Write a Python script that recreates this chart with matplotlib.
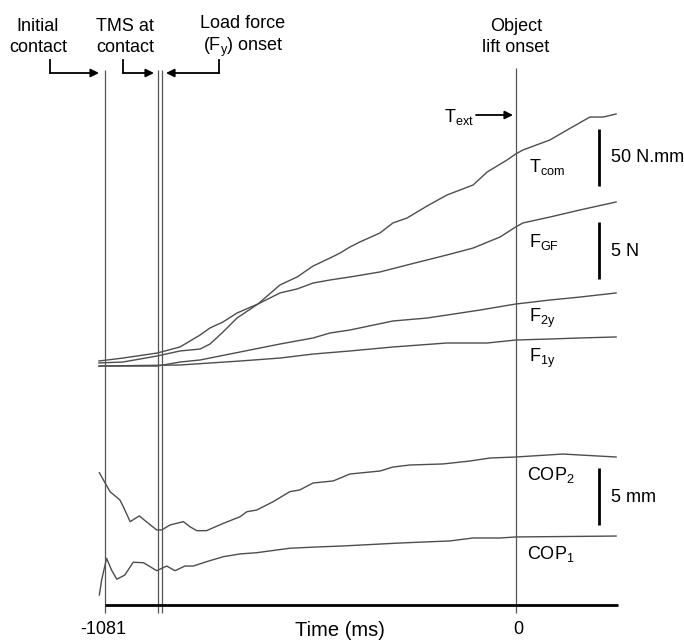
import matplotlib
matplotlib.use("Agg")
import matplotlib.pyplot as plt
import matplotlib.transforms as mtransforms

plt.rcParams['font.family'] = ['Liberation Sans', 'DejaVu Sans']
plt.rcParams['mathtext.fontset'] = 'custom'
plt.rcParams['mathtext.rm'] = 'Liberation Sans'
plt.rcParams['mathtext.it'] = 'Liberation Sans'

# events (ms relative to object lift onset)
t_contact = -1081
t_tms = -941
t_load = -929
t_lift = 0
t_end = 270

# commanded torque (N.mm)
t_tcom = [-1096, -1033, -943, -883, -830, -804, -770, -733, -678, -620, -575, -533, -488,
          -462, -436, -410, -357, -323, -286, -233, -181, -112, -75, -23, 0, 19, 90, 135,
          195, 230, 264]
tcom = [1.8, 2.6, 7.9, 12.3, 14.0, 18.4, 28.9, 41.2, 53.5, 70.2, 77.2, 86.8, 93.9,
        98.2, 103.5, 107.9, 115.8, 124.6, 128.9, 139.5, 149.1, 157.9, 169.3, 179.8, 185.1,
        188.6, 197.4, 206.1, 217.5, 217.5, 220.2]

# grip force (N)
t_fgf = [-1096, -1033, -943, -883, -830, -804, -770, -733, -678, -620, -575, -533, -488,
         -436, -357, -286, -181, -112, -41, 0, 19, 90, 169, 264]
fgf = [0.35, 0.61, 1.05, 1.58, 2.63, 3.25, 3.77, 4.56, 5.35, 6.32, 6.67, 7.19, 7.46,
       7.72, 8.16, 8.77, 9.65, 10.26, 11.23, 12.11, 12.46, 12.98, 13.60, 14.30]

# load force digit 2 (N)
t_f2y = [-1096, -943, -883, -830, -725, -620, -533, -488, -436, -323, -233, -94, 0, 90,
         169, 264]
f2y = [-0.09, -0.09, 0.26, 0.44, 1.14, 1.84, 2.37, 2.81, 3.07, 3.86, 4.12, 4.82, 5.35,
       5.70, 5.96, 6.32]

# load force digit 1 (N)
t_f1y = [-1096, -883, -725, -620, -533, -436, -323, -181, -75, 0, 90, 169, 264]
f1y = [-0.09, 0.0, 0.35, 0.61, 0.96, 1.23, 1.58, 1.93, 1.93, 2.19, 2.28, 2.37, 2.46]

# centre of pressure digit 2 (mm)
t_cop2 = [-1095, -1067, -1041, -1032, -1014, -990, -966, -944, -931, -909, -874, -857,
          -839, -813, -769, -725, -707, -681, -638, -594, -568, -533, -480, -436, -357,
          -323, -278, -191, -120, -68, 0, 124, 264]
cop2 = [5.90, 4.24, 3.51, 2.92, 1.61, 2.11, 1.46, 0.88, 0.88, 1.32, 1.61, 1.17,
        0.82, 0.82, 1.46, 2.04, 2.48, 2.63, 3.36, 4.24, 4.39, 5.00, 5.18, 5.79, 6.05,
        6.40, 6.58, 6.67, 6.93, 7.19, 7.28, 7.54, 7.28]

# centre of pressure digit 1 (mm)
t_cop1 = [-1095, -1089, -1076, -1063, -1049, -1028, -1006, -979, -944, -918, -896, -870,
          -848, -813, -769, -725, -681, -594, -523, -454, -304, -173, -112, -41, 0, 264]
cop1 = [0.44, 1.75, 3.66, 2.63, 1.82, 2.19, 3.31, 3.27, 2.57, 2.98, 2.57, 2.98,
        2.98, 3.36, 3.80, 4.04, 4.15, 4.54, 4.65, 4.74, 5.00, 5.18, 5.44, 5.44, 5.53, 5.61]

W, H = 684, 640
fig = plt.figure(figsize=(W / 100, H / 100), dpi=100)
ax = fig.add_axes([0, 0, 1, 1])
ax.set_xlim(-1356.3, 442.6)
ax.set_ylim(H, 0)
ax.axis('off')

# pixel coords from top-left, for text and arrows
px = mtransforms.Affine2D().scale(1 / W, -1 / H).translate(0, 1) + fig.transFigure

# trace placement: baseline (row) and gain per unit
base_f = 365
g_t = 1.14    # per N.mm
g_f = 11.4    # per N
base_cop2 = 540
base_cop1 = 600
g_cop = 11.4  # per mm

trace_col = '#4d4d4d'
kw = dict(color=trace_col, lw=1, solid_joinstyle='round')
ax.plot(t_tcom, [base_f - g_t * v for v in tcom], **kw)
ax.plot(t_fgf, [base_f - g_f * v for v in fgf], **kw)
ax.plot(t_f2y, [base_f - g_f * v for v in f2y], **kw)
ax.plot(t_f1y, [base_f - g_f * v for v in f1y], **kw)
ax.plot(t_cop2, [base_cop2 - g_cop * v for v in cop2], **kw)
ax.plot(t_cop1, [base_cop1 - g_cop * v for v in cop1], **kw)

# event lines
ax.vlines([t_contact, t_tms, t_load], 70, 613, color='#555555', lw=0.9)
ax.vlines([t_lift], 68, 613, color='#555555', lw=0.9)

# time axis
ax.hlines(605, t_contact, t_end, color='black', lw=2)

# scale bars
t_bar = 219
ax.vlines(t_bar, 129, 129 + g_t * 50, color='black', lw=2)
ax.vlines(t_bar, 222, 222 + g_f * 5, color='black', lw=2)
ax.vlines(t_bar, 468, 468 + g_cop * 5, color='black', lw=2)

fs = 13
ax.text(611, 158, '50 N.mm', transform=px, fontsize=fs, va='center', ha='left')
ax.text(611, 252, '5 N', transform=px, fontsize=fs, va='center', ha='left')
ax.text(611, 498, '5 mm', transform=px, fontsize=fs, va='center', ha='left')

# trace labels
ax.text(529, 167, r'T$_{\mathrm{com}}$', transform=px, fontsize=fs, va='center')
ax.text(529, 242, r'F$_{\mathrm{GF}}$', transform=px, fontsize=fs, va='center')
ax.text(529, 318, r'F$_{\mathrm{2y}}$', transform=px, fontsize=fs, va='center')
ax.text(529, 358, r'F$_{\mathrm{1y}}$', transform=px, fontsize=fs, va='center')
ax.text(527, 475, r'COP$_{\mathrm{2}}$', transform=px, fontsize=fs, va='center')
ax.text(527, 554, r'COP$_{\mathrm{1}}$', transform=px, fontsize=fs, va='center')

# event labels
lab = dict(transform=px, fontsize=fs, ha='center', va='center', linespacing=1.25)
ax.text(38, 37, 'Initial\ncontact', **lab)
ax.text(125, 37, 'TMS at\ncontact', **lab)
ax.text(243, 37, 'Load force\n(F$_{\\mathrm{y}}$) onset', **lab)
ax.text(516, 37, 'Object\nlift onset', **lab)

# elbow arrows
arr = dict(arrowstyle='-|>', color='black', lw=1.3, mutation_scale=12, shrinkA=0, shrinkB=0)
for x0, x1 in [(50, 99), (123, 154), (219, 166)]:
    ax.plot([x0, x0], [60, 73], color='black', lw=1.3, transform=px)
    ax.annotate('', xy=(x1, 73), xytext=(x0, 73), xycoords=px, textcoords=px,
                arrowprops=arr)

# T_ext arrow
ax.text(459, 117, r'T$_{\mathrm{ext}}$', transform=px, fontsize=fs, ha='center',
        va='center')
ax.annotate('', xy=(513, 115), xytext=(476, 115), xycoords=px, textcoords=px,
            arrowprops=arr)

# axis labels
ax.text(103, 630, '-1081', transform=px, fontsize=fs, ha='center', va='center')
ax.text(518, 630, '0', transform=px, fontsize=fs, ha='center', va='center')
ax.text(340, 630, 'Time (ms)', transform=px, fontsize=14.5, ha='center', va='center')

fig.savefig('out.png', dpi=100)
